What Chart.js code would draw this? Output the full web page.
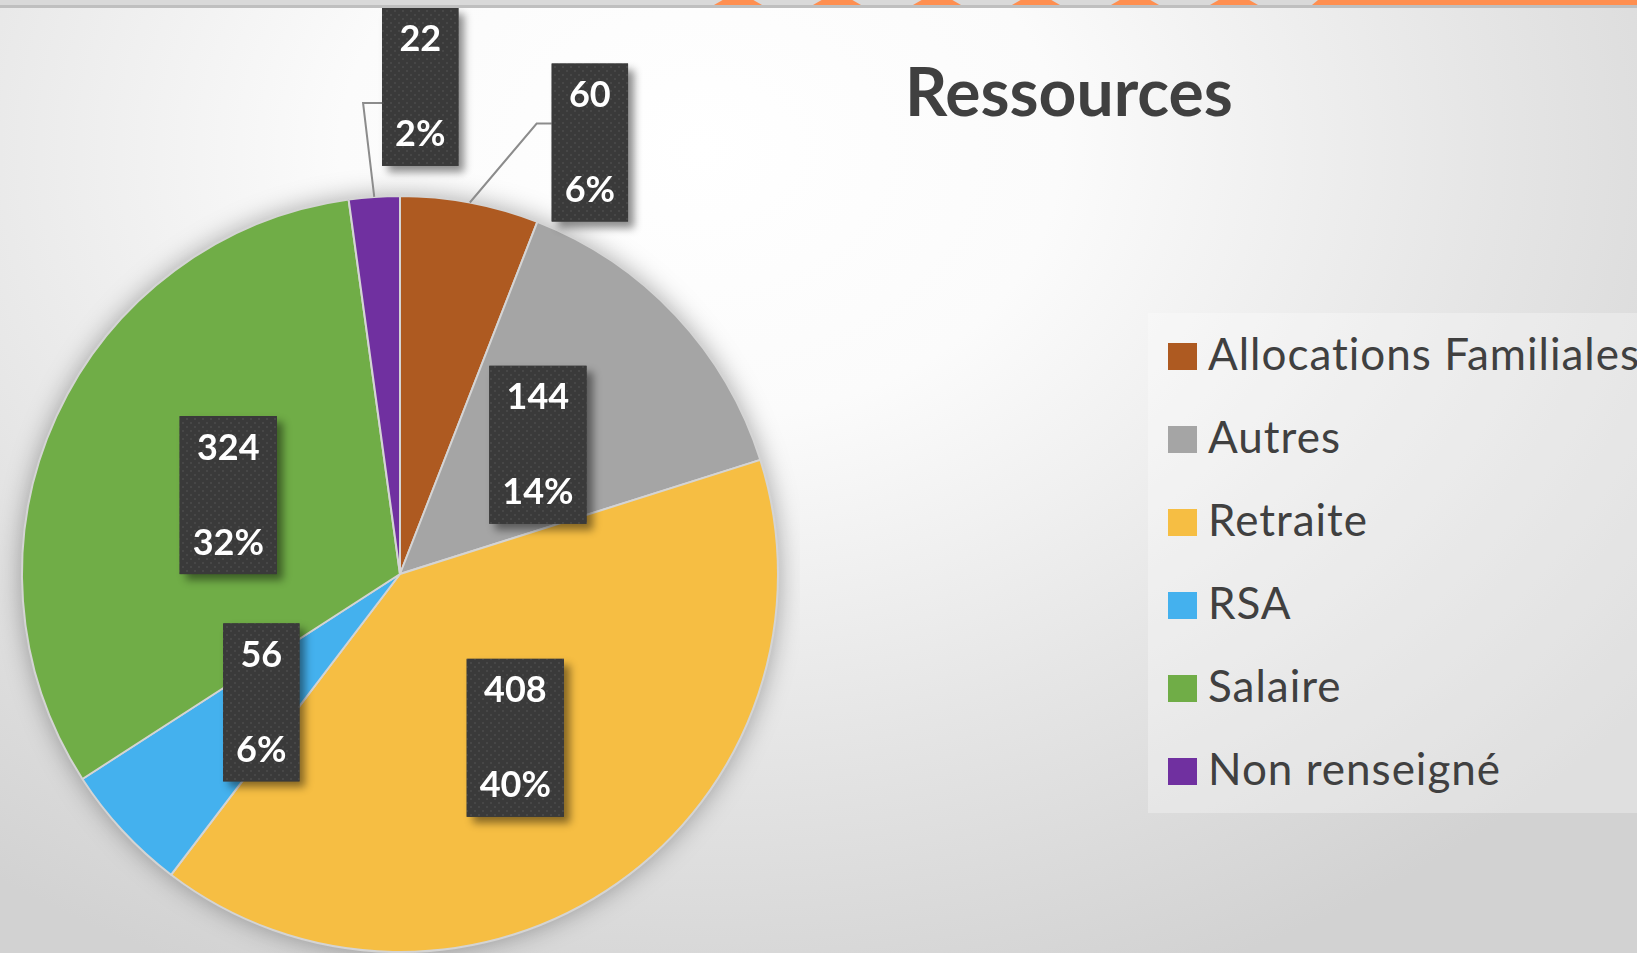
<!DOCTYPE html>
<html lang="fr">
<head>
<meta charset="utf-8">
<title>Ressources</title>
<script src="https://cdn.jsdelivr.net/npm/chart.js@4.4.1/dist/chart.umd.min.js"></script>
<style>
	html, body {
		margin: 0;
		padding: 0;
		width: 1637px;
		height: 953px;
		overflow: hidden;
	}
	body {
		position: relative;
		font-family: Lato, "Open Sans", sans-serif;
		background: radial-gradient(ellipse 1200px 900px at 700px 150px, #ffffff 0%, #fbfbfb 30%, #e6e6e6 65%, #d2d2d2 100%);
	}
	.top-bar {
		position: absolute;
		left: 0; top: 0;
		width: 100%;
		height: 5px;
		background: #d9d9d9;
		border-bottom: 3px solid #bfbfbf;
		z-index: 5;
	}
	.top-bar .peak {
		position: absolute;
		top: 0;
		width: 48px;
		height: 5px;
		background: #ff8f50;
		clip-path: polygon(18% 0, 82% 0, 100% 100%, 0 100%);
	}
	.top-bar .band {
		position: absolute;
		top: 0; right: 0;
		left: 1312px;
		height: 5px;
		background: #ff8f50;
		clip-path: polygon(6px 0, 100% 0, 100% 100%, 0 100%);
	}
	.pie-wrap {
		position: absolute;
		left: 0; top: 0;
		width: 800px;
		height: 953px;
	}
	.chart-title {
		position: absolute;
		left: 905px;
		top: 58px;
		margin: 0;
		font-size: 66px;
		line-height: 66px;
		font-weight: 700;
		color: #404040;
	}
	.chart-legend {
		position: absolute;
		left: 1148px;
		top: 313px;
		right: 0;
		height: 500px;
		padding: 2px 0 0 20px;
		box-sizing: border-box;
		background: rgba(255, 255, 255, 0.3);
	}
	.legend-item {
		display: flex;
		align-items: center;
		height: 83px;
		font-size: 44px;
		letter-spacing: 1px;
		color: #404040;
		white-space: nowrap;
	}
	.legend-item .legend-text {
		position: relative;
		top: -4px;
	}
	.legend-swatch {
		width: 29px;
		height: 27px;
		margin-right: 11px;
		flex: none;
	}
</style>
</head>
<body>
<div class="top-bar" id="top-bar"></div>
<div class="pie-wrap"><canvas id="ressourcesChart"></canvas></div>
<h1 class="chart-title">Ressources</h1>
<div class="chart-legend" id="ressourcesLegend"></div>

<script>
	'use strict';

	// values as shown on the slide
	const ressources = {
		labels: ['Allocations Familiales', 'Autres', 'Retraite', 'RSA', 'Salaire', 'Non renseigné'],
		values: [60, 144, 408, 56, 324, 22],
		colors: ['#ae5a21', '#a5a5a5', '#f6be43', '#44b1ee', '#70ad47', '#7030a0'],
		// label position: r = fraction of the radius for labels inside the pie,
		// dx/dy = box centre offset from the slice edge for labels dragged outside
		placement: [
			{ dx: 120, dy: -60, elbowY: -19, elbowX: 15 },
			{ r: 0.5 },
			{ r: 0.53 },
			{ r: 0.5 },
			{ r: 0.5 },
			{ dx: 46, dy: -110, elbowY: 16, elbowX: 19 }
		]
	};

	// decoration along the top of the slide
	const bar = document.getElementById('top-bar');
	[738, 837, 937, 1036, 1135, 1234].forEach(cx => {
		const peak = document.createElement('div');
		peak.className = 'peak';
		peak.style.left = (cx - 24) + 'px';
		bar.appendChild(peak);
	});
	const band = document.createElement('div');
	band.className = 'band';
	bar.appendChild(band);

	function dottedPattern(ctx) {
		const tile = document.createElement('canvas');
		tile.width = 8;
		tile.height = 8;
		const t = tile.getContext('2d');
		t.fillStyle = '#3a3a3a';
		t.fillRect(0, 0, 8, 8);
		t.fillStyle = '#474747';
		t.fillRect(2, 2, 2, 2);
		t.fillRect(6, 6, 2, 2);
		return ctx.createPattern(tile, 'repeat');
	}

	const pieShadow = {
		id: 'pieShadow',
		beforeDatasetsDraw(chart) {
			const arc = chart.getDatasetMeta(0).data[0];
			if (!arc) return;
			const ctx = chart.ctx;
			ctx.save();
			ctx.shadowColor = 'rgba(0, 0, 0, 0.35)';
			ctx.shadowBlur = 26;
			ctx.beginPath();
			ctx.arc(arc.x, arc.y, arc.outerRadius, 0, Math.PI * 2);
			ctx.fillStyle = '#a5a5a5';
			ctx.fill();
			ctx.restore();
		}
	};

	const boxLabels = {
		id: 'boxLabels',
		afterDatasetsDraw(chart) {
			const ctx = chart.ctx;
			const data = chart.data.datasets[0].data;
			const total = data.reduce((a, b) => a + b, 0);
			const pattern = dottedPattern(ctx);

			chart.getDatasetMeta(0).data.forEach((arc, i) => {
				const valueText = String(data[i]);
				const pctText = Math.round(data[i] / total * 100) + '%';
				const place = ressources.placement[i];
				const mid = (arc.startAngle + arc.endAngle) / 2;

				ctx.save();
				ctx.font = 'bold 36px Lato, "Open Sans", sans-serif';
				const w = Math.max(ctx.measureText(valueText).width, ctx.measureText(pctText).width) + 26;
				const h = 158;

				let cx, cy;
				if (place.dx !== undefined) {
					const ex = arc.x + Math.cos(mid) * arc.outerRadius;
					const ey = arc.y + Math.sin(mid) * arc.outerRadius;
					cx = ex + place.dx;
					cy = ey + place.dy;
					const left = cx - w / 2;
					ctx.strokeStyle = '#8c8c8c';
					ctx.lineWidth = 2;
					ctx.beginPath();
					ctx.moveTo(ex, ey);
					ctx.lineTo(left - place.elbowX, cy + place.elbowY);
					ctx.lineTo(left, cy + place.elbowY);
					ctx.stroke();
				} else {
					cx = arc.x + Math.cos(mid) * arc.outerRadius * place.r;
					cy = arc.y + Math.sin(mid) * arc.outerRadius * place.r;
				}

				ctx.shadowColor = 'rgba(0, 0, 0, 0.45)';
				ctx.shadowBlur = 8;
				ctx.shadowOffsetX = 6;
				ctx.shadowOffsetY = 6;
				ctx.fillStyle = '#3a3a3a';
				ctx.fillRect(cx - w / 2, cy - h / 2, w, h);
				ctx.shadowColor = 'transparent';
				ctx.fillStyle = pattern;
				ctx.fillRect(cx - w / 2, cy - h / 2, w, h);

				ctx.fillStyle = '#ffffff';
				ctx.textAlign = 'center';
				ctx.textBaseline = 'middle';
				ctx.fillText(valueText, cx, cy - 47);
				ctx.fillText(pctText, cx, cy + 48);
				ctx.restore();
			});
		}
	};

	const chart = new Chart(document.getElementById('ressourcesChart'), {
		type: 'pie',
		data: {
			labels: ressources.labels,
			datasets: [{
				data: ressources.values,
				backgroundColor: ressources.colors,
				borderColor: '#d4d4d4',
				borderWidth: 2
			}]
		},
		options: {
			responsive: true,
			maintainAspectRatio: false,
			animation: false,
			layout: { padding: { top: 195, bottom: 0, left: 21, right: 21 } },
			plugins: {
				legend: { display: false },
				tooltip: { enabled: false }
			}
		},
		plugins: [pieShadow, boxLabels]
	});

	// legend beside the pie, built from the chart data
	const legendEl = document.getElementById('ressourcesLegend');
	chart.data.labels.forEach((label, i) => {
		const item = document.createElement('div');
		item.className = 'legend-item';
		const swatch = document.createElement('span');
		swatch.className = 'legend-swatch';
		swatch.style.background = chart.data.datasets[0].backgroundColor[i];
		const text = document.createElement('span');
		text.className = 'legend-text';
		text.textContent = label;
		item.appendChild(swatch);
		item.appendChild(text);
		legendEl.appendChild(item);
	});
</script>
</body>
</html>
